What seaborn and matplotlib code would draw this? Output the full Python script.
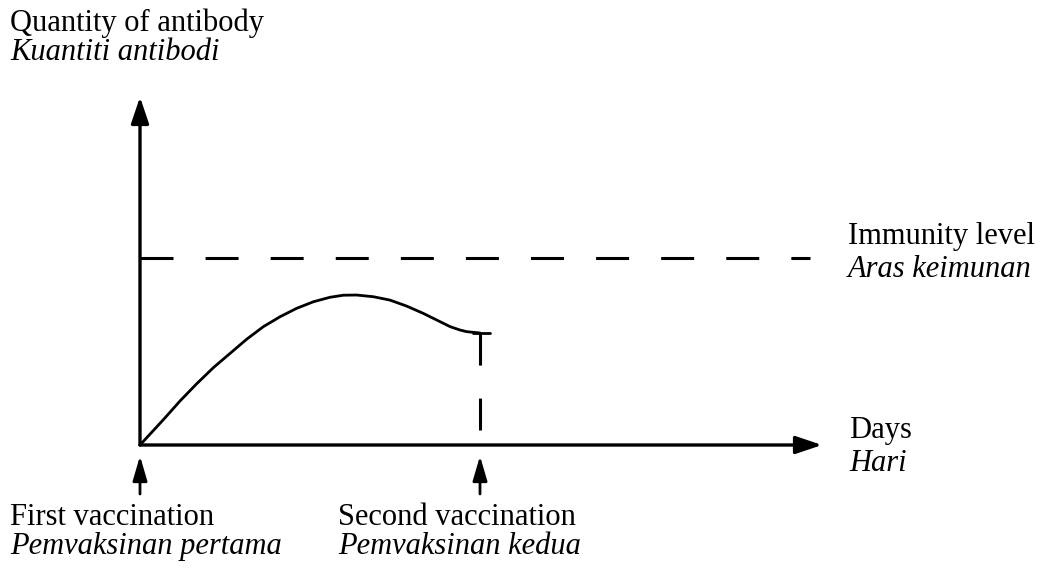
import matplotlib
matplotlib.use('Agg')
import matplotlib.pyplot as plt
import numpy as np
import seaborn as sns

# antibody curve (days, quantity)
days = [0, 0.69, 1.18, 1.67, 2.16, 2.65, 3.14, 3.63, 4.12, 4.61, 5.10, 5.59,
        5.98, 6.37, 6.86, 7.35, 7.84, 8.33, 8.73, 9.12, 9.41, 9.61, 10.0]
antibody = [0, 1.36, 2.36, 3.28, 4.14, 4.90, 5.66, 6.33, 6.86, 7.31, 7.66, 7.90,
            8.01, 8.02, 7.93, 7.75, 7.43, 7.04, 6.68, 6.33, 6.15, 6.06, 5.99]

immunity_level = 10.0
vaccination_days = [0, 10]

y_label = ['Quantity of antibody', 'Kuantiti antibodi']
x_label = ['Days', 'Hari']
level_label = ['Immunity level', 'Aras keimunan']
vacc_labels = [['First vaccination', 'Pemvaksinan pertama'],
               ['Second vaccination', 'Pemvaksinan kedua']]

sns.set_style('white')
plt.rcParams['font.family'] = ['Liberation Serif', 'DejaVu Serif']

W, H = 1057, 570
fig = plt.figure(figsize=(W / 100, H / 100), dpi=100)
ax = fig.add_axes([0, 0, 1, 1])
ax.axis('off')

# pixel scale of the sketch: origin at (140, 445), 34 px per day, 18.7 px per unit
x0, y0, sx, sy = 140, 445, 34.0, 18.7
ax.set_xlim(-x0 / sx, (W - x0) / sx)
ax.set_ylim(-(H - y0) / sy, y0 / sy)

def arrow(xy_from, xy_to, lw=2.4, hl=0.8, hw=0.27):
    ax.annotate('', xy=xy_to, xytext=xy_from,
                arrowprops=dict(arrowstyle=f'-|>,head_length={hl},head_width={hw}',
                                lw=lw, color='black', mutation_scale=20,
                                shrinkA=0, shrinkB=0))

# axes with arrow heads
arrow((0, 0), (0, (y0 - 97) / sy))
arrow((0, 0), ((822 - x0) / sx, 0))

# antibody curve
sns.lineplot(x=days, y=antibody, ax=ax, color='black', lw=2.0, sort=False)

# immunity level
ax.plot([0, (810 - x0) / sx], [immunity_level, immunity_level], color='black',
        lw=2.2, dashes=(10.8, 10.5))

# second vaccination marker
end_day, end_val = days[-1], antibody[-1]
ax.plot([end_day - 0.2, end_day + 0.3], [end_val, end_val], color='black', lw=2.0)
ax.plot([end_day, end_day], [end_val, (y0 - 430) / sy], color='black', lw=2.2,
        dashes=(10.5, 10.8))

# vaccination arrows under the axis
for d in vaccination_days:
    arrow((d, -(494 - y0) / sy), (d, -(456 - y0) / sy), lw=2.0, hl=0.75, hw=0.22)

fs = 22
def label(px, py, lines, gap):
    fig.text(px / W, 1 - py / H, lines[0], fontsize=fs, va='baseline', ha='left',
             color='black')
    fig.text(px / W, 1 - (py + gap) / H, lines[1], fontsize=fs, va='baseline',
             ha='left', style='italic', color='black')

label(10, 31, y_label, 29)
label(848, 244, level_label, 33)
label(849, 438, x_label, 33)
label(10, 525, vacc_labels[0], 29)
label(338, 525, vacc_labels[1], 29)

fig.savefig('out.png', dpi=100, facecolor='white')
